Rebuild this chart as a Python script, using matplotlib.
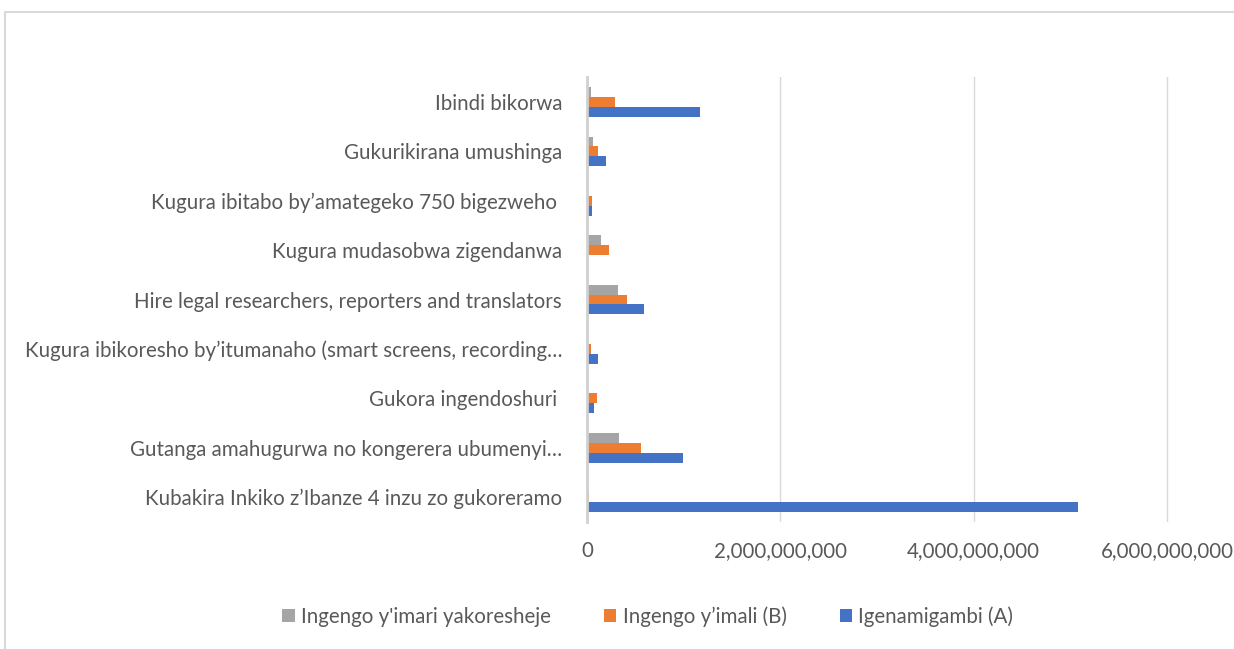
import matplotlib.pyplot as plt
from matplotlib.patches import Rectangle
from matplotlib.ticker import FuncFormatter
import numpy as np

plt.rcParams["font.family"] = ["Lato", "DejaVu Sans"]

# categories, bottom to top (Excel order)
categories = [
    "Kubakira Inkiko z’Ibanze 4 inzu zo gukoreramo",
    "Gutanga amahugurwa no kongerera ubumenyi…",
    "Gukora ingendoshuri ",
    "Kugura ibikoresho by’itumanaho (smart screens, recording…",
    "Hire legal researchers, reporters and translators",
    "Kugura mudasobwa zigendanwa",
    "Kugura ibitabo by’amategeko 750 bigezweho ",
    "Gukurikirana umushinga",
    "Ibindi bikorwa",
]

igenamigambi_a = [5.08e9, 0.995e9, 0.075e9, 0.115e9, 0.585e9, 0, 0.05e9, 0.2e9, 1.17e9]
ingengo_b = [0.025e9, 0.56e9, 0.1e9, 0.04e9, 0.41e9, 0.23e9, 0.05e9, 0.115e9, 0.29e9]
yakoresheje = [0, 0.335e9, 0, 0, 0.325e9, 0.14e9, 0, 0.065e9, 0.04e9]

x_ticks = [0, 2e9, 4e9, 6e9]

fig = plt.figure(figsize=(12.34, 6.49), dpi=100)
ax = fig.add_axes([0.4757, 0.196, 0.4968, 0.685])

y = np.arange(len(categories))
h = 0.2
ax.barh(y + h, yakoresheje, height=h, color="#A5A5A5", label="Ingengo y'imari yakoresheje")
ax.barh(y, ingengo_b, height=h, color="#ED7D31", label="Ingengo y’imali (B)")
ax.barh(y - h, igenamigambi_a, height=h, color="#4472C4", label="Igenamigambi (A)")

ax.set_ylim(-0.5, len(categories) - 0.5)
ax.set_xlim(0, 6e9 * 613 / 580)
ax.set_yticks(y)
ax.set_yticklabels(categories, fontsize=14.8, color="#595959")
ax.set_xticks(x_ticks)
ax.xaxis.set_major_formatter(FuncFormatter(lambda v, p: f"{v:,.0f}"))
ax.tick_params(axis="x", labelsize=14.8, labelcolor="#595959", length=0, pad=14)
ax.tick_params(axis="y", length=0, pad=18)

ax.grid(axis="x", color="#d9d9d9", linewidth=1)
ax.set_axisbelow(True)
for s in ["top", "right", "bottom"]:
    ax.spines[s].set_visible(False)
ax.spines["left"].set_color("#d0d0d0")
ax.spines["left"].set_linewidth(2)

handles, labels = ax.get_legend_handles_labels()
fig.legend(handles, labels, loc="center", bbox_to_anchor=(0.525, 0.05), ncol=3,
           frameon=False, fontsize=14.8, labelcolor="#595959", handlelength=0.6,
           handleheight=0.6, handletextpad=0.3, columnspacing=2.6)

fig.patches.append(Rectangle((5 / 1234, -0.1), 1.2, 1 - 12 / 649 + 0.1,
                             transform=fig.transFigure, fill=False,
                             edgecolor="#d9d9d9", linewidth=1.5))

fig.savefig("out.png", dpi=100)
